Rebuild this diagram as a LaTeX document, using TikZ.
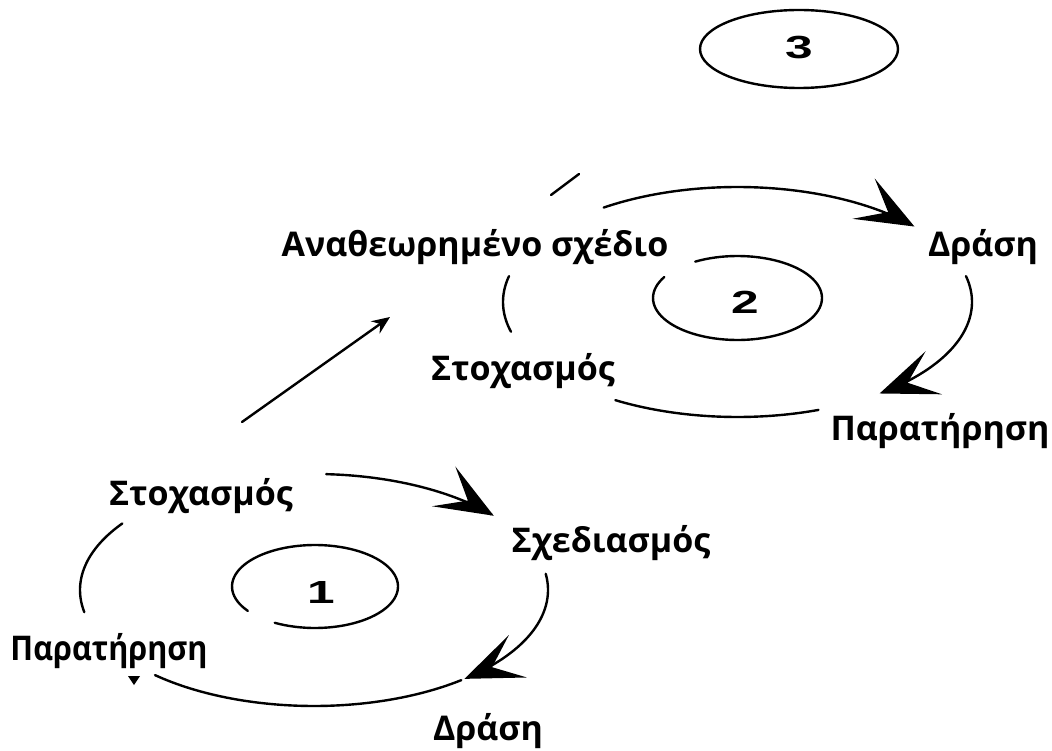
\documentclass[tikz,border=0pt]{standalone}
\usepackage{fontspec}
\setmainfont{Open Sans}
\newfontfamily\digitfont{Liberation Sans}
\usetikzlibrary{arrows.meta}
\tikzset{
  lbl/.style={anchor=base, inner sep=0pt, font=\fontsize{34}{40}\selectfont\bfseries},
  num/.style={inner sep=0pt, font=\digitfont\fontsize{32}{36}\selectfont\bfseries, xscale=1.55},
  curve/.style={line width=2.4pt, line cap=round},
  bigtip/.style={-{Stealth[length=58pt,width=46pt,inset=28pt]}},
  smalltip/.style={-{Stealth[length=18pt,width=15pt,inset=6pt]}},
}
\begin{document}
\begin{tikzpicture}[x=1pt,y=-1pt]
\useasboundingbox (0,0) rectangle (1052,751);
% ---- text labels
\node[lbl] (rev)    at (475,257) {Αναθεωρημένο σχέδιο};
\node[lbl] (drasi2) at (983,257) {Δράση};
\node[lbl] (stox2)  at (523,380) {Στοχασμός};
\node[lbl] (parat2) at (940,440) {Παρατήρηση};
\node[lbl] (stox1)  at (201,505) {Στοχασμός};
\node[lbl] (sxed1)  at (611,552) {Σχεδιασμός};
\node[lbl,xscale=0.9] (parat1) at (109,660) {Παρατήρηση};
\node[lbl] (drasi1) at (488,740) {Δράση};
% ---- numbers
\node[num] (n3) at (799,48) {3};
\node[num] (n2) at (745,302) {2};
\node[num] (n1) at (321,592) {1};
% ---- ellipse 3
\draw[curve] (799,49) ellipse [x radius=99, y radius=39];
% ---- cycle 2 (center 737.5,302; rx 234.5, ry 115)
\def\cxb{737.5}\def\cyb{302}
\draw[curve,bigtip] plot[domain=124.8:41,samples=60] ({\cxb+234.5*cos(\x)},{\cyb-115*sin(\x)});
\draw[curve,bigtip] plot[domain=13:-52.7,samples=60] ({\cxb+234.5*cos(\x)},{\cyb-115*sin(\x)});
\draw[curve] plot[domain=-121.4:-69.8,samples=40] ({\cxb+234.5*cos(\x)},{\cyb-115*sin(\x)});
\draw[curve] plot[domain=167:195,samples=30] ({\cxb+234.5*cos(\x)},{\cyb-115*sin(\x)});
\draw[curve] plot[domain=120:-210,samples=90] ({\cxb+84.5*cos(\x)},{298-42*sin(\x)});
% ---- cycle 1 (center 314,590; rx 234, ry 116)
\def\cxa{314}\def\cya{590}
\draw[curve,bigtip] plot[domain=87:39.8,samples=60] ({\cxa+234*cos(\x)},{\cya-116*sin(\x)});
\draw[curve,bigtip] plot[domain=8:-50,samples=60] ({\cxa+234*cos(\x)},{\cya-116*sin(\x)});
\draw[curve] plot[domain=-51:-132.8,samples=60] ({\cxa+234*cos(\x)},{\cya-116*sin(\x)});
\draw[curve] plot[domain=145:191,samples=40] ({\cxa+234*cos(\x)},{\cya-116*sin(\x)});
\draw[curve] plot[domain=241:576,samples=90] ({315+83*cos(\x)},{586.5-41.5*sin(\x)});
% small down-pointing mark
\fill (128,676) -- (140,676) -- (134,685) -- cycle;
% ---- arrow from cycle 1 to revised plan
\coordinate (a0) at (242,422);
\coordinate (a1) at (390,317);
\draw[curve,smalltip] (a0) -- (a1);
% short stroke
\coordinate (s0) at (551,195);
\coordinate (s1) at (579,174);
\draw[curve] (s0) -- (s1);
\end{tikzpicture}
\end{document}
